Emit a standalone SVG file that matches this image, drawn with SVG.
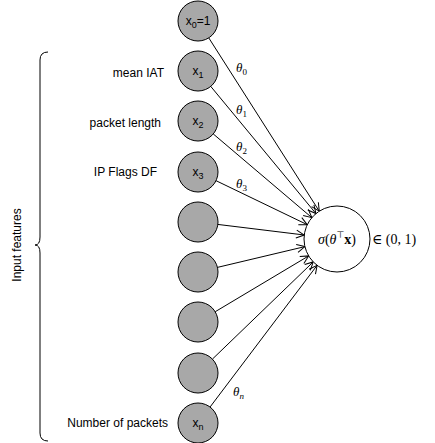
<svg xmlns="http://www.w3.org/2000/svg" width="435" height="443" viewBox="0 0 435 443">
<style>
.in{fill:#a8a8a8;stroke:#000;stroke-width:1}
.out{fill:#fff;stroke:#000;stroke-width:1}
.nt{font-family:"Liberation Sans",Arial,sans-serif;font-size:12px;fill:#000;text-anchor:middle}
.lb{font-family:"Liberation Sans",Arial,sans-serif;font-size:12px;fill:#000;text-anchor:end}
.th{font-family:"Liberation Serif","DejaVu Serif",serif;font-size:13px;font-style:italic;fill:#000}
.mt{font-family:"Liberation Serif","DejaVu Serif",serif;font-size:14px;fill:#000}
.e{fill:none;stroke:#000;stroke-width:1;marker-end:url(#arr)}
</style>
<defs>
<marker id="arr" markerUnits="userSpaceOnUse" markerWidth="12" markerHeight="12" viewBox="0 0 12 12" refX="10" refY="6" orient="auto">
<path d="M2,2 L10,6 L2,10" fill="none" stroke="#000" stroke-width="1"/>
</marker>
</defs>
<g id="brace">
<path d="M48,52 Q40,52 40,60 L40,237 Q40,245 35,245 Q40,245 40,253 L40,433 Q40,441 48,441" fill="none" stroke="#000" stroke-width="1"/>
<text class="nt" transform="translate(21,245) rotate(-90)">Input features</text>
</g>
<g id="connectors">
<line class="e" x1="208.75" y1="37.86" x2="319.26" y2="211.17"/>
<line class="e" x1="210.75" y1="86.41" x2="315.96" y2="213.57"/>
<line class="e" x1="213.25" y1="133.94" x2="311.84" y2="217.64"/>
<line class="e" x1="216.02" y1="180.68" x2="307.27" y2="224.67"/>
<line class="e" x1="217.85" y1="224.43" x2="304.24" y2="234.99"/>
<line class="e" x1="217.46" y1="267.38" x2="304.89" y2="246.62"/>
<line class="e" x1="215.17" y1="311.75" x2="308.67" y2="255.92"/>
<line class="e" x1="212.40" y1="359.12" x2="313.24" y2="261.90"/>
<line class="e" x1="210.06" y1="407.04" x2="317.11" y2="265.33"/>
<text class="th" x="236" y="72">θ<tspan font-size="9" font-style="normal" dy="3">0</tspan></text>
<text class="th" x="236" y="114">θ<tspan font-size="9" font-style="normal" dy="3">1</tspan></text>
<text class="th" x="236" y="151">θ<tspan font-size="9" font-style="normal" dy="3">2</tspan></text>
<text class="th" x="236" y="188">θ<tspan font-size="9" font-style="normal" dy="3">3</tspan></text>
<text class="th" x="233" y="396">θ<tspan font-size="9" dy="3">n</tspan></text>
</g>
<g id="x0">
<circle class="in" cx="198" cy="21" r="20"/>
<text class="nt" x="198" y="25">x<tspan font-size="9" dy="3">0</tspan><tspan dy="-3">=1</tspan></text>
</g>
<g id="x1">
<circle class="in" cx="198" cy="71" r="20"/>
<text class="nt" x="198" y="75">x<tspan font-size="9" dy="3">1</tspan></text>
<text class="lb" x="164" y="77">mean IAT</text>
</g>
<g id="x2">
<circle class="in" cx="198" cy="121" r="20"/>
<text class="nt" x="198" y="125">x<tspan font-size="9" dy="3">2</tspan></text>
<text class="lb" x="161" y="127">packet length</text>
</g>
<g id="x3">
<circle class="in" cx="198" cy="172" r="20"/>
<text class="nt" x="198" y="176">x<tspan font-size="9" dy="3">3</tspan></text>
<text class="lb" x="157" y="176">IP Flags DF</text>
</g>
<g id="x4"><circle class="in" cx="198" cy="222" r="20"/></g>
<g id="x5"><circle class="in" cx="198" cy="272" r="20"/></g>
<g id="x6"><circle class="in" cx="198" cy="322" r="20"/></g>
<g id="x7"><circle class="in" cx="198" cy="373" r="20"/></g>
<g id="xn">
<circle class="in" cx="198" cy="423" r="20"/>
<text class="nt" x="198" y="427">x<tspan font-size="9" dy="3">n</tspan></text>
<text class="lb" x="168" y="427">Number of packets</text>
</g>
<g id="output">
<circle class="out" cx="337" cy="239" r="33"/>
<text class="mt" x="337" y="244" text-anchor="middle"><tspan font-style="italic">σ</tspan>(<tspan font-style="italic">θ</tspan><tspan font-size="9" dy="-6" font-family="DejaVu Sans, sans-serif">⊤</tspan><tspan font-weight="bold" dy="6">x</tspan>)</text>
<text class="mt" x="372" y="244">∈ (0, 1)</text>
</g>
</svg>
